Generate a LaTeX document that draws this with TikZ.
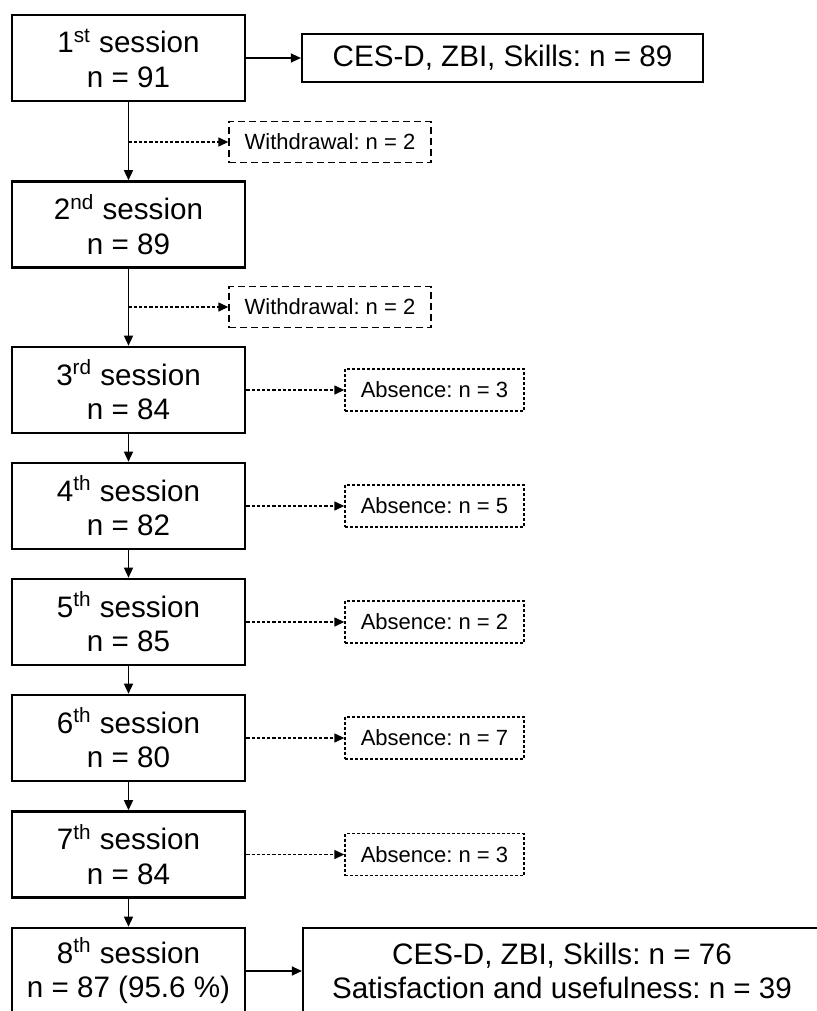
\documentclass[tikz,border=0pt]{standalone}
\usepackage{fontspec}
\setmainfont{Liberation Sans}
\usetikzlibrary{arrows.meta}
\frenchspacing

\newcommand{\bigtxt}{\fontsize{14.8}{17.3}\selectfont}
\newcommand{\smalltxt}{\fontsize{11}{13}\selectfont}

\tikzset{
  sessbox/.style={draw, line width=1.3pt, minimum width=116.5pt, minimum height=43pt,
    inner sep=0pt, align=center, font=\bigtxt},
  outbox/.style={draw, line width=1.1pt, inner sep=0pt, align=center, font=\bigtxt},
  quitbox/.style={draw, line width=0.7pt, dash pattern=on 3.5pt off 2pt,
    minimum width=101pt, minimum height=20.5pt, inner sep=0pt, font=\smalltxt},
  missbox/.style={draw, line width=0.7pt, dash pattern=on 1.5pt off 1pt,
    minimum width=89.5pt, minimum height=21pt, inner sep=0pt, font=\smalltxt},
  flow/.style={line width=0.7pt, -{Triangle[length=5pt,width=4.5pt]}},
  skip/.style={flow, dash pattern=on 1.6pt off 1pt},
}

\begin{document}
\begin{tikzpicture}[x=0.5pt, y=-0.5pt]
  \useasboundingbox (0,0) rectangle (817,1011);
  \clip (0,0) rectangle (817,1011);

  % sessions
  \node[sessbox] (S1) at (128.5,58) {1\textsuperscript{st} session\\n = 91};
  \node[sessbox] (S2) at (128.5,224.5) {2\textsuperscript{nd} session\\n = 89};
  \node[sessbox] (S3) at (128.5,390) {3\textsuperscript{rd} session\\n = 84};
  \node[sessbox] (S4) at (128.5,506) {4\textsuperscript{th} session\\n = 82};
  \node[sessbox] (S5) at (128.5,622) {5\textsuperscript{th} session\\n = 85};
  \node[sessbox] (S6) at (128.5,738) {6\textsuperscript{th} session\\n = 80};
  \node[sessbox] (S7) at (128.5,854.5) {7\textsuperscript{th} session\\n = 84};
  \node[sessbox] (S8) at (128.5,971) {8\textsuperscript{th} session\\n = 87 (95.6 \%)};

  % measures
  \node[outbox, minimum width=200.5pt, minimum height=24pt] (C1) at (502.5,58) {CES-D, ZBI, Skills: n = 89};
  \node[outbox, minimum width=259pt, minimum height=43pt] (C8) at (562,971)
    {CES-D, ZBI, Skills: n = 76\\Satisfaction and usefulness: n = 39};

  % drop-outs
  \node[quitbox] (W1) at (330,142) {Withdrawal: n = 2};
  \node[quitbox] (W2) at (330,307) {Withdrawal: n = 2};
  \node[missbox] (A3) at (434.5,390) {Absence: n = 3};
  \node[missbox] (A4) at (434.5,506) {Absence: n = 5};
  \node[missbox] (A5) at (434.5,622) {Absence: n = 2};
  \node[missbox] (A6) at (434.5,738) {Absence: n = 7};
  \node[missbox] (A7) at (434.5,854.5) {Absence: n = 3};

  \foreach \a/\b in {S1/S2, S2/S3, S3/S4, S4/S5, S5/S6, S6/S7, S7/S8}
    \draw[flow] (\a.south) -- (\b.north);

  \draw[flow] (S1.east) -- (C1.west);
  \draw[flow] (S8.east) -- (C8.west);

  \draw[skip] (S1.south |- W1.west) -- (W1.west);
  \draw[skip] (S2.south |- W2.west) -- (W2.west);
  \foreach \n in {3,...,7}
    \draw[skip] (S\n.east) -- (A\n.west);
\end{tikzpicture}
\end{document}
